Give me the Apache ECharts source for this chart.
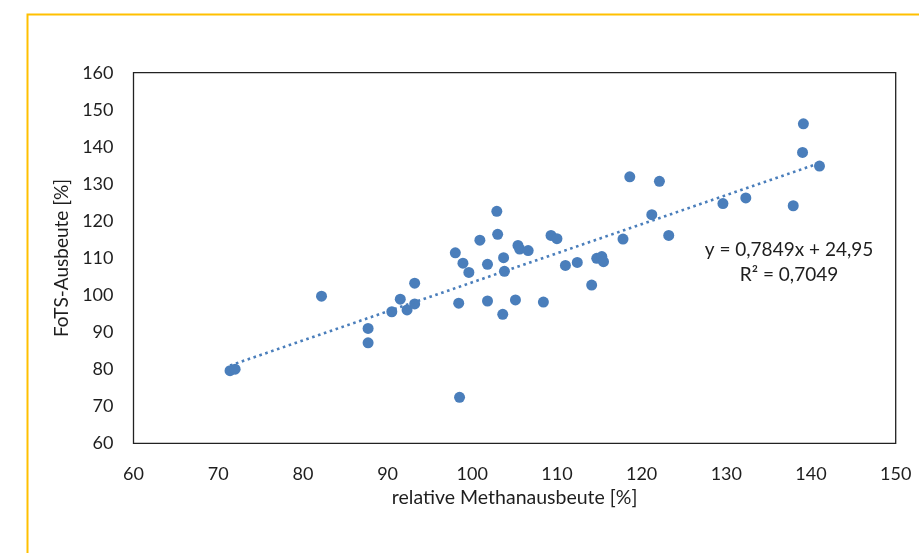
<!DOCTYPE html>
<html>
<head>
<meta charset="utf-8">
<script src="https://cdn.jsdelivr.net/npm/echarts@6/dist/echarts.min.js"></script>
<style>
html,body{margin:0;padding:0;background:#fff;}
#chart{width:919px;height:553px;}
</style>
</head>
<body>
<div id="chart"></div>
<script>
// relative Methanausbeute [%]
const methanX = [71.4, 72.0, 82.2, 87.7, 87.7, 90.5, 91.5, 92.3, 93.2, 93.2,
  98.0, 98.4, 98.5, 98.9, 99.6, 100.9, 101.8, 101.8, 102.9, 103.0,
  103.6, 103.7, 103.8, 105.1, 105.4, 105.6, 106.6, 108.4, 109.3, 110.0,
  111.0, 112.4, 114.1, 114.7, 115.3, 115.5, 117.8, 118.6, 121.2, 122.1,
  123.2, 129.6, 132.3, 137.9, 139.0, 139.1, 141.0];
// FoTS-Ausbeute [%]
const fotsY = [79.6, 80.0, 99.7, 91.0, 87.1, 95.5, 98.9, 96.0, 97.6, 103.2,
  111.4, 97.8, 72.4, 108.6, 106.1, 114.8, 108.3, 98.4, 122.6, 116.4,
  94.8, 110.1, 106.4, 98.7, 113.4, 112.4, 112.0, 98.1, 116.1, 115.2,
  108.0, 108.8, 102.7, 109.9, 110.4, 109.0, 115.1, 131.9, 121.7, 130.7,
  116.1, 124.7, 126.2, 124.1, 138.5, 146.2, 134.8];
// linear trendline endpoints (as drawn)
const trendX = [71.4, 141.0];
const trendY = [81.0, 135.6];
const equationText = 'y = 0,7849x + 24,95';
const r2Text = 'R² = 0,7049';
const xTitle = 'relative Methanausbeute [%]';
const yTitle = 'FoTS-Ausbeute [%]';

const scatterData = methanX.map((x, i) => [x, fotsY[i]]);
const trendData = trendX.map((x, i) => [x, trendY[i]]);

const FONT = 'Lato';
const TXT = '#1e1e1e';
const BLUE = '#4a7ebb';

const chart = echarts.init(document.getElementById('chart'), null, {renderer: 'canvas'});
chart.setOption({
  animation: false,
  backgroundColor: '#fff',
  textStyle: {fontFamily: FONT},
  grid: {left: 133.5, top: 72.7, right: 23.3, bottom: 109.7, show: true, borderColor: '#222', borderWidth: 1.3, containLabel: false},
  xAxis: {
    type: 'value', min: 60, max: 150, interval: 10,
    name: xTitle, nameLocation: 'middle', nameGap: 44,
    nameTextStyle: {fontFamily: FONT, fontSize: 19.5, color: TXT},
    axisLine: {show: false}, axisTick: {show: false}, splitLine: {show: false},
    axisLabel: {fontFamily: FONT, fontSize: 18, color: TXT, margin: 22}
  },
  yAxis: {
    type: 'value', min: 60, max: 160, interval: 10,
    name: yTitle, nameLocation: 'middle', nameGap: 62, nameRotate: 90,
    nameTextStyle: {fontFamily: FONT, fontSize: 19, color: TXT},
    axisLine: {show: false}, axisTick: {show: false}, splitLine: {show: false},
    axisLabel: {fontFamily: FONT, fontSize: 18, color: TXT, margin: 20}
  },
  series: [
    {
      type: 'scatter', data: scatterData, symbol: 'circle', symbolSize: 11,
      itemStyle: {color: BLUE, opacity: 1}, z: 2
    },
    {
      type: 'line', data: trendData, showSymbol: false, symbol: 'none',
      lineStyle: {color: BLUE, width: 2.6, type: [2.6, 3.6]}, z: 3, silent: true
    }
  ],
  graphic: [
    {type: 'rect', left: 25, top: 12, shape: {width: 1000, height: 1000}, style: {fill: 'none', stroke: '#FFC000', lineWidth: 2}, z: 0, silent: true},
    {type: 'text', x: 789, y: 250, style: {text: equationText, font: '19px ' + FONT, fill: TXT, align: 'center', verticalAlign: 'middle'}, z: 10},
    {type: 'text', x: 789, y: 275, style: {text: r2Text, font: '19px ' + FONT, fill: TXT, align: 'center', verticalAlign: 'middle'}, z: 10}
  ]
});
</script>
</body>
</html>
